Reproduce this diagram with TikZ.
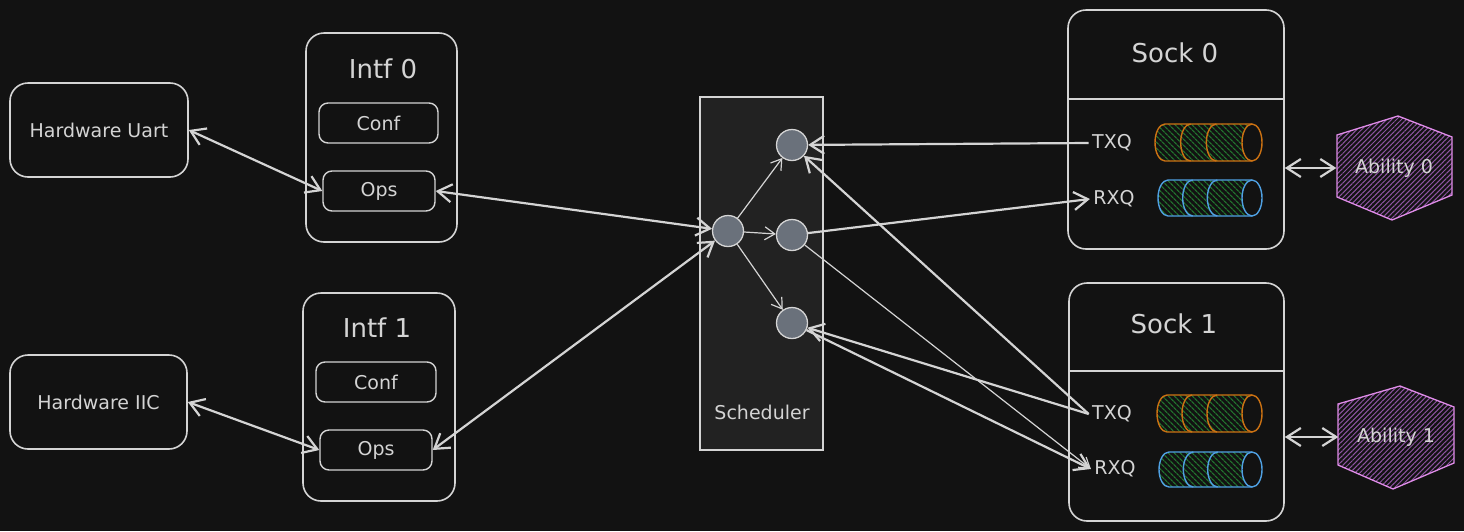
\documentclass[tikz,border=0pt]{standalone}
\usepackage{fontspec}
\setmainfont{DejaVu Sans}
\usetikzlibrary{arrows.meta,patterns.meta}
\definecolor{bg}{HTML}{121212}
\definecolor{ink}{HTML}{D4D4D4}
\definecolor{schedfill}{HTML}{222222}
\definecolor{dotc}{HTML}{6A717B}
\definecolor{qorange}{HTML}{CC7212}
\definecolor{qblue}{HTML}{4FA0E2}
\definecolor{qgreen}{HTML}{22732E}
\definecolor{abline}{HTML}{E08CE9}
\definecolor{abfill}{HTML}{8E55A2}

\begin{document}
\begin{tikzpicture}[x=1pt, y=-1pt,
  box/.style={draw=ink, line width=1.6pt, rounded corners=18pt},
  part/.style={draw=ink, line width=1.4pt, rounded corners=9pt, minimum height=40pt,
    text=ink, font=\fontsize{19}{21}\selectfont},
  title/.style={text=ink, font=\fontsize{26}{28}\selectfont},
  lbl/.style={text=ink, font=\fontsize{19}{21}\selectfont},
  dot/.style={circle, draw=ink, fill=dotc, line width=1.3pt, minimum size=31pt, inner sep=0pt},
  link/.style={draw=ink, line width=2.2pt, >={Straight Barb[length=14pt,width=18pt]}},
  fine/.style={draw=ink, line width=1.2pt, >={Straight Barb[length=10pt,width=13pt]}},
  hexa/.style={draw=abline, line width=1.3pt, pattern={Lines[angle=45,distance=3.5pt,line width=1pt]},
    pattern color=abfill},
  ability/.style={text=ink, font=\fontsize{19}{21}\selectfont, minimum width=115pt, minimum height=100pt}]
  \fill[bg] (0,0) rectangle (1464,531);
  \useasboundingbox (0,0) rectangle (1464,531);

  \node[box, lbl, minimum width=178pt, minimum height=94pt] (hwU) at (99,130) {Hardware Uart};
  \node[box, lbl, minimum width=177pt, minimum height=94pt] (hwI) at (98.5,402) {Hardware IIC};

  \node[box, minimum width=151pt, minimum height=209pt] (if0) at (381.5,137.5) {};
  \node[title] (if0t) at (383,69) {Intf 0};
  \node[part, minimum width=119pt] (conf0) at (378.5,123) {Conf};
  \node[part, minimum width=112pt] (ops0) at (379,191) {Ops};

  \node[box, minimum width=152pt, minimum height=208pt] (if1) at (379,397) {};
  \node[title] (if1t) at (377,328) {Intf 1};
  \node[part, minimum width=120pt] (conf1) at (376,382) {Conf};
  \node[part, minimum width=112pt] (ops1) at (376,450) {Ops};

  \node[draw=ink, fill=schedfill, line width=1.2pt, minimum width=123pt, minimum height=353pt] (sch) at (761.5,273.5) {};
  \node[lbl] (schl) at (762,412) {Scheduler};
  \node[dot] (c0) at (728,231) {};
  \node[dot] (n1) at (792,145) {};
  \node[dot] (n2) at (792,235) {};
  \node[dot] (n3) at (792,323) {};

  \node[box, minimum width=216pt, minimum height=239pt] (sock0) at (1176,129.5) {};
  \node[title] (s0t) at (1175,53) {Sock 0};
  \draw[ink, line width=1.6pt] (1068,99) -- (1284,99);
  \node[lbl] (txq0) at (1112,143) {TXQ};
  \node[lbl] (rxq0) at (1114,199) {RXQ};

  \node[box, minimum width=215pt, minimum height=238pt] (sock1) at (1176.5,402) {};
  \node[title] (s1t) at (1174,324) {Sock 1};
  \draw[ink, line width=1.6pt] (1069,371) -- (1284,371);
  \node[lbl] (txq1) at (1112,414) {TXQ};
  \node[lbl] (rxq1) at (1115,469) {RXQ};

  \foreach \qx/\qt/\qb/\qc in {1155/124/161/qorange, 1158/180/216/qblue, 1157/395/432/qorange, 1159/452/487/qblue}{
    \pgfmathsetmacro\ry{(\qb-\qt)/2}
    \pgfmathsetmacro\cy{(\qt+\qb)/2}
    \pgfmathsetmacro\st{(1242-\qx-10)/3}
    \path[pattern={Lines[angle=-45,distance=4pt,line width=1.3pt]}, pattern color=qgreen]
      (1252,\qt) -- (\qx+10,\qt) arc[start angle=270, end angle=90, x radius=10, y radius=\ry] -- (1252,\qb) -- cycle;
    \draw[\qc, line width=1.4pt]
      (1252,\qt) -- (\qx+10,\qt) arc[start angle=270, end angle=90, x radius=10, y radius=\ry] -- (1252,\qb);
    \draw[\qc, line width=1.4pt] (\qx+10+\st,\qt) arc[start angle=270, end angle=90, x radius=10, y radius=\ry];
    \draw[\qc, line width=1.4pt] (\qx+10+2*\st,\qt) arc[start angle=270, end angle=90, x radius=10, y radius=\ry];
    \draw[\qc, line width=1.4pt, fill=bg] (1252,\cy) ellipse[x radius=10, y radius=\ry];
  }

  \draw[hexa] (1398,116) -- (1452,137) -- (1452,195) -- (1392,220) -- (1337,197) -- (1337,135) -- cycle;
  \node[ability] (ab0) at (1394,168) {Ability 0};
  \draw[hexa] (1400,386) -- (1454,407) -- (1454,463) -- (1393,489) -- (1338,465) -- (1338,404) -- cycle;
  \node[ability] (ab1) at (1396,437) {Ability 1};

  \draw[link, <->] (hwU.east) -- (ops0.west);
  \draw[link, <->] (hwI.east) -- (ops1.west);
  \draw[link, <->] (ops0.east) -- (c0);
  \draw[link, <->] (ops1.east) -- (c0);
  \draw[fine, ->] (c0) -- (n1);
  \draw[fine, ->] (c0) -- (n2);
  \draw[fine, ->] (c0) -- (n3);
  \draw[link, ->] (txq0.west) -- (n1);
  \draw[link, ->] (n2) -- (rxq0.west);
  \draw[link, ->] (txq1.west) -- (n1);
  \draw[fine, ->] (n2) -- (rxq1.west);
  \draw[link, ->] (txq1.west) -- (n3);
  \draw[link, ->] (n3) -- (rxq1.west);
  \draw[link, <->] (sock0.east |- ab0.west) -- (ab0.west);
  \draw[link, <->] (sock1.east |- ab1.west) -- (ab1.west);
\end{tikzpicture}
\end{document}
